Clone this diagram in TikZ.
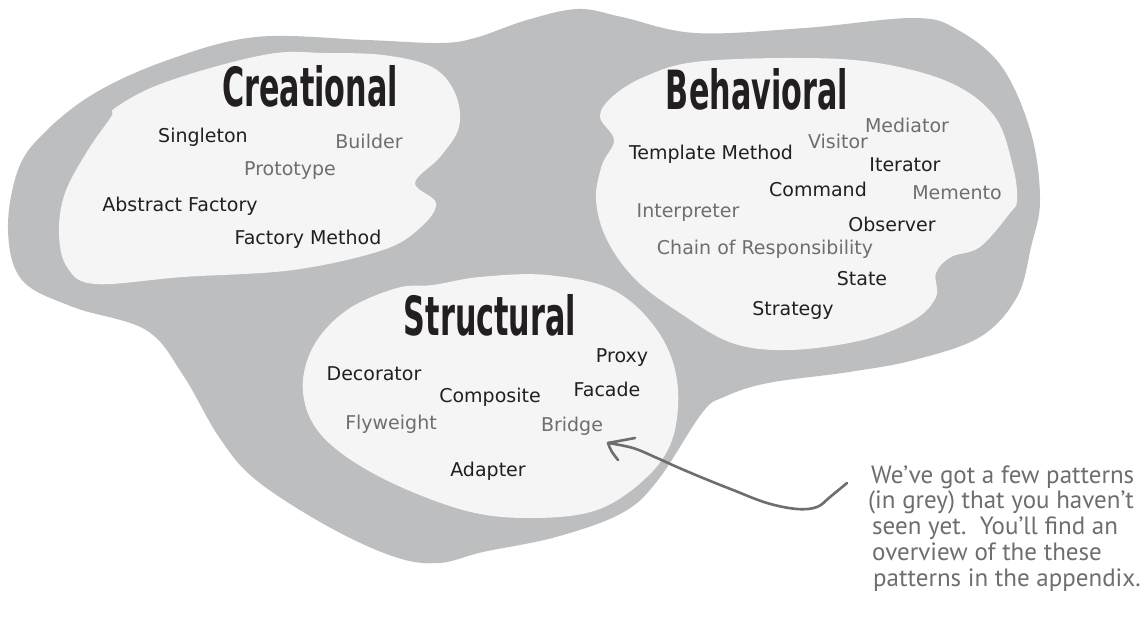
\documentclass[tikz,border=0pt]{standalone}
\usepackage{fontspec}
\setmainfont{DejaVu Sans}
\newfontfamily\titlefont[FakeStretch=0.56]{DejaVu Sans}
\newfontfamily\notefont{PT Sans}
\definecolor{outergray}{HTML}{BDBEC0}
\definecolor{innerfill}{HTML}{F5F5F5}
\definecolor{ink}{HTML}{231F20}
\definecolor{greytext}{HTML}{6D6E71}
\begin{document}
\begin{tikzpicture}[x=1pt,y=-1pt,
  titlestyle/.style={font=\titlefont\bfseries\fontsize{54}{56}\selectfont, text=ink, anchor=base, inner sep=0pt},
  pat/.style={font=\fontsize{19}{22}\selectfont, text=ink, anchor=base, inner sep=0pt},
  newpat/.style={pat, text=greytext},
  notestyle/.style={font=\notefont\fontsize{25}{27}\selectfont, text=greytext, anchor=base west, inner sep=0pt},
  blobfill/.style={fill=innerfill},
  pointer/.style={draw=greytext, line width=2.6pt, line cap=round, line join=round}]
\useasboundingbox (0,0) rectangle (1147,620);
\fill[white] (0,0) rectangle (1147,620);

% outer grey region
\fill[outergray] plot[smooth cycle, tension=0.6] coordinates {
 (8,230) (18,170) (44,133) (95,93) (168,60) (256,37) (366,40) (439,43) (475,38)
 (527,20) (578,9) (622,17) (695,33) (805,28) (914,18) (958,30) (1002,67)
 (1031,133) (1040,200) (1031,247) (1017,297) (980,337) (914,360) (849,372)
 (768,383) (724,397) (702,413) (658,480) (622,513) (556,537) (483,552)
 (439,563) (395,557) (329,527) (256,480) (219,437) (183,375) (146,330)
 (73,307) (22,280)};

% Creational blob
\fill[blobfill] plot[smooth cycle, tension=0.6] coordinates {
 (111,117) (88,150) (65,193) (59,233) (67,267) (95,284) (183,277) (293,270)
 (383,250) (421,227) (436,203) (415,183) (440,157) (459,127) (455,93)
 (432,67) (383,55) (325,53) (276,53) (214,67) (153,87) (115,108)};

% Behavioral blob
\fill[blobfill] plot[smooth cycle, tension=0.6] coordinates {
 (798,58) (878,63) (951,83) (995,117) (1013,167) (1017,200) (1010,213)
 (980,247) (951,257) (936,273) (936,297) (914,320) (863,340) (790,350)
 (732,343) (680,313) (636,280) (607,240) (596,200) (602,165) (614,140)
 (600,117) (612,97) (644,77) (695,62)};

% Structural blob
\fill[blobfill] plot[smooth cycle, tension=0.6] coordinates {
 (433,285) (480,277) (547,275) (613,290) (657,330) (677,380) (673,437)
 (647,477) (597,510) (530,518) (463,510) (380,477) (323,437) (303,393)
 (313,347) (347,310) (397,288)};

% titles
\node[titlestyle] (creational) at (310,107) {Creational};
\node[titlestyle] (behavioral) at (757,110) {Behavioral};
\node[titlestyle] (structural) at (490,335) {Structural};

% creational patterns
\node[pat]    (singleton) at (203,143) {Singleton};
\node[newpat] (builder)   at (369,149) {Builder};
\node[newpat] (prototype) at (290,176) {Prototype};
\node[pat]    (absfact)   at (180,212) {Abstract Factory};
\node[pat]    (factmeth)  at (308,244) {Factory Method};

% behavioral patterns
\node[newpat] (mediator)  at (907,133) {Mediator};
\node[newpat] (visitor)   at (838,149) {Visitor};
\node[pat]    (template)  at (711,160) {Template Method};
\node[pat]    (iterator)  at (905,172) {Iterator};
\node[pat]    (command)   at (818,197) {Command};
\node[newpat] (memento)   at (957,200) {Memento};
\node[newpat] (interp)    at (688,218) {Interpreter};
\node[pat]    (observer)  at (892,232) {Observer};
\node[newpat] (chain)     at (765,254) {Chain of Responsibility};
\node[pat]    (state)     at (862,285) {State};
\node[pat]    (strategy)  at (793,315) {Strategy};

% structural patterns
\node[pat]    (proxy)     at (622,362) {Proxy};
\node[pat]    (decorator) at (374,380) {Decorator};
\node[pat]    (composite) at (490,402) {Composite};
\node[pat]    (facade)    at (607,396) {Facade};
\node[newpat] (flyweight) at (391,429) {Flyweight};
\node[newpat] (bridge)    at (572,431) {Bridge};
\node[pat]    (adapter)   at (488,476) {Adapter};

% note
\node[notestyle] (note1) at (871,483) {We’ve got a few patterns};
\node[notestyle] (note2) at (868,508) {(in grey) that you haven’t};
\node[notestyle] (note3) at (872,534) {seen yet.\ \ You’ll find an};
\node[notestyle] (note4) at (872,560) {overview of the these};
\node[notestyle] (note5) at (873,586) {patterns in the appendix.};

% pointer
\coordinate (tail) at (847,483);
\coordinate (tip) at (608,443);
\draw[pointer] plot[smooth, tension=0.6] coordinates {
 (tail) (830,497) (817,507) (797,509) (767,503) (733,490) (703,478)
 (677,467) (657,458) (633,448) (tip)};
\draw[pointer] (tip) -- (635,438);
\draw[pointer] (tip) .. controls (611,451) .. (618,460);
\end{tikzpicture}
\end{document}
